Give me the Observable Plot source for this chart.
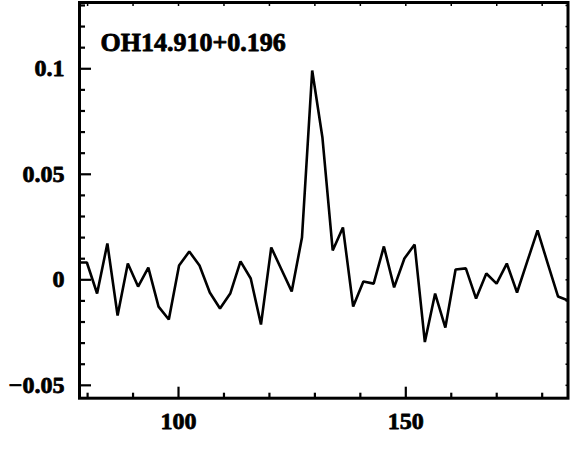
<!DOCTYPE html>
<html>
<head>
<meta charset="utf-8">
<script src="https://cdn.jsdelivr.net/npm/d3@7"></script>
<script src="https://cdn.jsdelivr.net/npm/@observablehq/plot@0.6"></script>
<style>
  html, body { margin: 0; padding: 0; background: #fff; }
</style>
</head>
<body>
<div id="chart"></div>
<script>
// Channel velocities (x) and flux (y)
const velocity = [77.59, 79.84, 82.09, 84.35, 86.60, 88.85, 91.11, 93.36, 95.61, 97.87,
  100.12, 102.37, 104.62, 106.88, 109.13, 111.38, 113.64, 115.89, 118.14, 120.40,
  122.65, 124.90, 127.16, 129.41, 131.66, 133.92, 136.17, 138.42, 140.67, 142.93,
  145.18, 147.43, 149.69, 151.94, 154.19, 156.45, 158.70, 160.95, 163.21, 165.46,
  167.71, 169.97, 172.22, 174.47, 176.72, 178.98, 181.23, 183.48, 185.74];
const flux = [0.0082, 0.0082, -0.0065, 0.0172, -0.0169, 0.0077, -0.0032, 0.0058, -0.0127, -0.0188,
  0.0068, 0.0134, 0.0068, -0.0060, -0.0136, -0.0065, 0.0087, 0.0006, -0.0212, 0.0153,
  0.0049, -0.0055, 0.0200, 0.0992, 0.0674, 0.0139, 0.0248, -0.0127, -0.0008, -0.0018,
  0.0158, -0.0036, 0.0101, 0.0167, -0.0295, -0.0065, -0.0226, 0.0049, 0.0054, -0.0089,
  0.0030, -0.0018, 0.0077, -0.0060, 0.0087, 0.0234, 0.0077, -0.0079, -0.0098];

const title = "OH14.910+0.196";

const xTicks = [100, 150];
const xTickLabels = ["100", "150"];
const xMinorTicks = [80, 90, 110, 120, 130, 140, 160, 170, 180];

const yTicks = [-0.05, 0, 0.05, 0.1];
const yTickLabels = ["\u22120.05", "0", "0.05", "0.1"];
const yMinorTicks = [-0.04, -0.03, -0.02, -0.01, 0.01, 0.02, 0.03, 0.04, 0.06, 0.07, 0.08, 0.09, 0.11, 0.12, 0.13];
const yAllTicks = [-0.05, -0.04, -0.03, -0.02, -0.01, 0, 0.01, 0.02, 0.03, 0.04, 0.05, 0.06, 0.07, 0.08, 0.09, 0.1, 0.11, 0.12, 0.13];

const data = velocity.map((v, i) => ({v, f: flux[i]}));

const W = 571, H = 467;
const mL = 79, mR = 3.5, mT = 2, mB = 69.3;

const font = {fontFamily: "Liberation Serif", fontWeight: "bold", fontSize: 24};
const heavy = {textStroke: "#000", textStrokeWidth: 0.8};
const xLab = new Map(xTicks.map((t, i) => [t, xTickLabels[i]]));
const yLab = new Map(yTicks.map((t, i) => [t, yTickLabels[i]]));
const tk = {text: null, stroke: "#000"};

const chart = Plot.plot({
  width: W, height: H,
  marginLeft: mL, marginRight: mR, marginTop: mT, marginBottom: mB,
  style: {fontFamily: "Liberation Serif", fontWeight: "bold", fontSize: "24px", background: "#fff", color: "#000"},
  x: {domain: [78.22, 185.68], label: null},
  y: {domain: [-0.0561, 0.1314], label: null},
  marks: [
    Plot.axisX(xTicks, {tickSize: 0, tickPadding: 14, tickFormat: d => xLab.get(d), ...font, ...heavy}),
    Plot.axisY(yTicks, {tickSize: 0, tickPadding: 15, tickFormat: d => yLab.get(d), ...font, ...heavy}),
    // inward ticks
    Plot.axisX(xTicks, {...tk, anchor: "bottom", tickSize: -11, strokeWidth: 2.2}),
    Plot.axisX(xMinorTicks, {...tk, anchor: "bottom", tickSize: -5, strokeWidth: 2.2}),
    Plot.axisX(xMinorTicks.concat(xTicks), {...tk, anchor: "top", tickSize: -3, strokeWidth: 1.5}),
    Plot.axisY(yTicks, {...tk, anchor: "left", tickSize: -12, strokeWidth: 2.2}),
    Plot.axisY(yMinorTicks, {...tk, anchor: "left", tickSize: -6, strokeWidth: 2.2}),
    Plot.axisY(yAllTicks, {...tk, anchor: "right", tickSize: -3, strokeWidth: 1.5}),
    Plot.line(data, {x: "v", y: "f", stroke: "#000", strokeWidth: 2.6, strokeLinejoin: "miter", clip: true}),
    Plot.frame({stroke: "#000", strokeWidth: 3}),
    Plot.text([title], {text: d => d, frameAnchor: "top-left", dx: 21, dy: 40, lineAnchor: "middle", textAnchor: "start", fill: "#000", stroke: "#000", strokeWidth: 0.8, ...font, fontSize: 26})
  ]
});
document.getElementById("chart").appendChild(chart);
</script>
</body>
</html>
